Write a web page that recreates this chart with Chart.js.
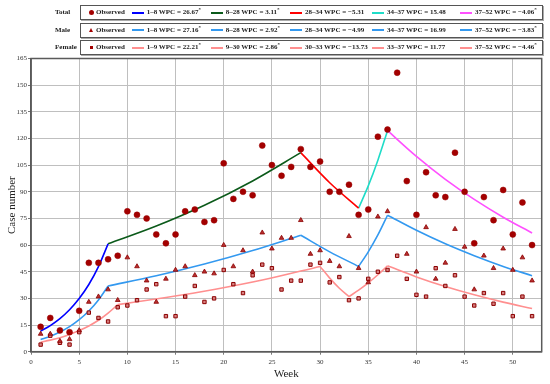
<!DOCTYPE html>
<html>
<head>
<meta charset="utf-8">
<script src="https://cdn.jsdelivr.net/npm/chart.js@4"></script>
<style>
  html,body{margin:0;padding:0;background:#fff;}
  #wrap{position:relative;width:550px;height:384px;}
  #c{position:absolute;left:0;top:0;}
  #legend{position:absolute;left:0;top:0;width:550px;height:60px;font-family:"Liberation Serif","Times New Roman",serif;color:#222;}
  .rowlabel{position:absolute;left:55px;height:15px;line-height:15px;font-size:7px;font-weight:bold;}
  .box{position:absolute;left:80px;width:461px;height:13px;border:1.5px solid #555;box-shadow:1px 1px 0 #aaa;background:#fff;}
  .txt{position:absolute;height:15px;line-height:15px;font-size:7px;font-weight:bold;white-space:nowrap;}
  .txt sup{font-size:5px;vertical-align:top;line-height:10px;}
  .ln{position:absolute;height:2px;}
  .mk{position:absolute;}
  .mk.circle{width:5px;height:5px;border-radius:50%;background:#a30000;}
  .mk.triangle{width:0;height:0;border-left:2.5px solid transparent;border-right:2.5px solid transparent;border-bottom:4px solid #a30000;}
  .mk.square{width:3px;height:3px;background:#a30000;}
</style>
</head>
<body>
<div id="wrap">
  <canvas id="c" width="550" height="384"></canvas>
  <div id="legend"></div>
</div>
<script>
// ---------- DATA ----------
const weeks = [1,2,3,4,5,6,7,8,9,10,11,12,13,14,15,16,17,18,19,20,21,22,23,24,25,26,27,28,29,30,31,32,33,34,35,36,37,38,39,40,41,42,43,44,45,46,47,48,49,50,51,52];
const totalObserved = [14,19,12,11,23,50,50,52,54,79,77,75,66,61,66,79,80,73,74,106,86,90,88,116,105,99,104,114,104,107,90,90,94,77,80,121,125,157,96,77,101,88,87,112,90,61,87,74,91,66,84,60];
const maleObserved = [10,10,6,7,12,28,31,35,29,53,48,40,28,41,46,48,43,45,44,60,48,57,45,67,58,64,64,74,55,57,51,48,65,47,39,76,79,null,55,45,70,41,50,69,59,35,54,47,58,46,53,40];
const femaleObserved = [4,9,5,4,11,22,19,17,25,26,29,35,38,20,20,31,37,28,30,46,38,33,43,49,47,35,40,40,49,50,39,42,29,30,41,45,46,54,41,32,31,47,37,43,31,26,33,27,33,20,31,20];

// fitted (joinpoint) curves
const totalFitWeeks = [1,2,3,4,5,6,7,8,13,18,23,28,31,34,35,36,37,40,43,46,49,52];
const totalFitValues = [11.6,14.7,18.6,23.6,29.9,37.8,47.9,60.7,70.7,82.4,96.1,112.0,95.1,80.8,93.3,107.8,124.4,109.9,97.0,85.7,75.7,66.8];
const totalJoinpoints = [1,8,28,34,37,52];

const maleFitWeeks = [1,2,3,4,5,6,7,8,13,18,23,28,31,34,35,36,37,40,43,46,49,52];
const maleFitValues = [6.9,8.7,11.1,14.1,18.0,22.9,29.1,37.0,42.7,49.3,56.9,65.5,56.2,48.0,56.2,65.7,76.8,68.3,60.7,54.0,48.0,42.8];
const maleJoinpoints = [1,8,28,34,37,52];

const femaleFitWeeks = [1,2,3,4,5,6,7,8,9,14,19,24,30,31,32,33,34,35,36,37,40,43,46,49,52];
const femaleFitValues = [5.3,6.5,7.9,9.7,11.9,14.5,17.7,21.7,26.5,30.5,35.0,40.3,48.0,41.4,35.7,31.0,34.6,38.7,43.3,48.3,42.1,36.7,32.0,27.9,24.3];
const femaleJoinpoints = [1,9,30,33,37,52];

// legend: weekly percent change per segment (* = significant)
const totalWPC = [26.67,3.11,-5.31,15.48,-4.06];
const totalSig = [true,true,false,false,true];
const maleWPC = [27.16,2.92,-4.99,16.99,-3.83];
const maleSig = [true,true,false,false,true];
const femaleWPC = [22.21,2.86,-13.73,11.77,-4.46];
const femaleSig = [true,true,false,false,true];

const xTicksStep = 5;
const yTicksStep = 15;

// ---------- STYLE ----------
const totalColors = ['#0000ff','#0b5a1a','#ff0000','#1fdcc8','#ff50ff'];
const maleColors = ['#3399f0','#3399f0','#3399f0','#3399f0','#3399f0'];
const femaleColors = ['#ff8f8f','#ff8f8f','#ff8f8f','#ff8f8f','#ff8f8f'];
const serif = '"Liberation Serif","Times New Roman",serif';

function obsPoints(vals){ return weeks.map((w,i)=>({x:w,y:vals[i]})).filter(p=>p.y!==null); }
function segDatasets(fw, fv, jp, colors){
  const out=[];
  for(let s=0;s<jp.length-1;s++){
    const pts=[];
    fw.forEach((w,i)=>{ if(w>=jp[s] && w<=jp[s+1]) pts.push({x:w,y:fv[i]}); });
    out.push({type:'scatter',data:pts,showLine:true,borderColor:colors[s],backgroundColor:colors[s],
      borderWidth:1.6,pointRadius:0,cubicInterpolationMode:'monotone',order:2});
  }
  return out;
}

const datasets = [
  {type:'scatter',label:'Total observed',data:obsPoints(totalObserved),pointStyle:'circle',pointRadius:3,
   backgroundColor:'#a30000',borderColor:'#9a0000',borderWidth:0.5,order:0},
  {type:'scatter',label:'Male observed',data:obsPoints(maleObserved),pointStyle:'triangle',pointRadius:2.7,
   backgroundColor:'#b83030',borderColor:'#8b0000',borderWidth:0.8,order:0},
  {type:'scatter',label:'Female observed',data:obsPoints(femaleObserved),pointStyle:'rect',pointRadius:2.4,
   backgroundColor:'#d88080',borderColor:'#8b0000',borderWidth:1,order:0},
  ...segDatasets(totalFitWeeks,totalFitValues,totalJoinpoints,totalColors),
  ...segDatasets(maleFitWeeks,maleFitValues,maleJoinpoints,maleColors),
  ...segDatasets(femaleFitWeeks,femaleFitValues,femaleJoinpoints,femaleColors)
];

const framePlugin = {
  id:'frame',
  afterDatasetsDraw(chart){
    const {ctx,chartArea:a}=chart;
    ctx.save();
    ctx.strokeStyle='#5a5a5a';
    ctx.lineWidth=1.5;
    ctx.strokeRect(a.left,a.top,a.right-a.left,a.bottom-a.top);
    ctx.restore();
  }
};

new Chart(document.getElementById('c'),{
  type:'scatter',
  data:{datasets},
  options:{
    responsive:false,
    animation:false,
    devicePixelRatio:1,
    layout:{padding:{top:58.5,right:8.3,left:0,bottom:0}},
    plugins:{legend:{display:false},tooltip:{enabled:false}},
    scales:{
      x:{
        type:'linear',min:0,max:53,
        afterFit:(s)=>{s.height=32.3;},
        ticks:{stepSize:xTicksStep,includeBounds:false,maxRotation:0,padding:3,color:'#333',font:{family:serif,size:7}},
        grid:{color:'#bfbfbf',lineWidth:1,tickLength:3,tickColor:'#777'},
        border:{color:'#5a5a5a',width:1.5},
        title:{display:true,text:'Week',color:'#222',font:{family:serif,size:11},padding:{top:0,bottom:3}}
      },
      y:{
        type:'linear',min:0,max:165,
        afterFit:(s)=>{s.width=31;},
        ticks:{stepSize:yTicksStep,padding:1,color:'#333',font:{family:serif,size:7}},
        grid:{color:'#bfbfbf',lineWidth:1,tickLength:3,tickColor:'#777'},
        border:{color:'#5a5a5a',width:1.5},
        title:{display:true,text:'Case number',color:'#222',font:{family:serif,size:11},padding:{top:6,bottom:0}}
      }
    }
  },
  plugins:[framePlugin]
});

// ---------- LEGEND (HTML) ----------
const legendRows = [
  {name:'Total',top:5,marker:'circle',joins:totalJoinpoints,wpc:totalWPC,sig:totalSig,colors:totalColors},
  {name:'Male',top:22.5,marker:'triangle',joins:maleJoinpoints,wpc:maleWPC,sig:maleSig,colors:maleColors},
  {name:'Female',top:40,marker:'square',joins:femaleJoinpoints,wpc:femaleWPC,sig:femaleSig,colors:femaleColors}
];
const lineStarts=[131.7,210.7,290,372,460];
const legend=document.getElementById('legend');
function el(cls,css,html){const d=document.createElement('div');d.className=cls;Object.assign(d.style,css);if(html!==undefined)d.innerHTML=html;legend.appendChild(d);return d;}
function fmt(v){return (v<0?'\u2212':'')+Math.abs(v).toFixed(2);}
legendRows.forEach(r=>{
  el('rowlabel',{top:r.top+'px'},r.name);
  el('box',{top:r.top+'px'});
  const cy=r.top+7.5;
  if(r.marker==='circle') el('mk circle',{left:(91.7-2.5)+'px',top:(cy-2.5)+'px'});
  if(r.marker==='triangle') el('mk triangle',{left:(91.7-2.5)+'px',top:(cy-2.5)+'px'});
  if(r.marker==='square') el('mk square',{left:(91.7-1.5)+'px',top:(cy-1.5)+'px'});
  el('txt',{left:'96px',top:r.top+'px'},'Observed');
  for(let i=0;i<r.wpc.length;i++){
    el('ln',{left:lineStarts[i]+'px',width:'12px',top:(cy-1)+'px',background:r.colors[i]});
    const lab=r.joins[i]+'\u2013'+r.joins[i+1]+' WPC = '+fmt(r.wpc[i])+(r.sig[i]?'<sup>*</sup>':'');
    el('txt',{left:(lineStarts[i]+15)+'px',top:r.top+'px'},lab);
  }
});
</script>
</body>
</html>
